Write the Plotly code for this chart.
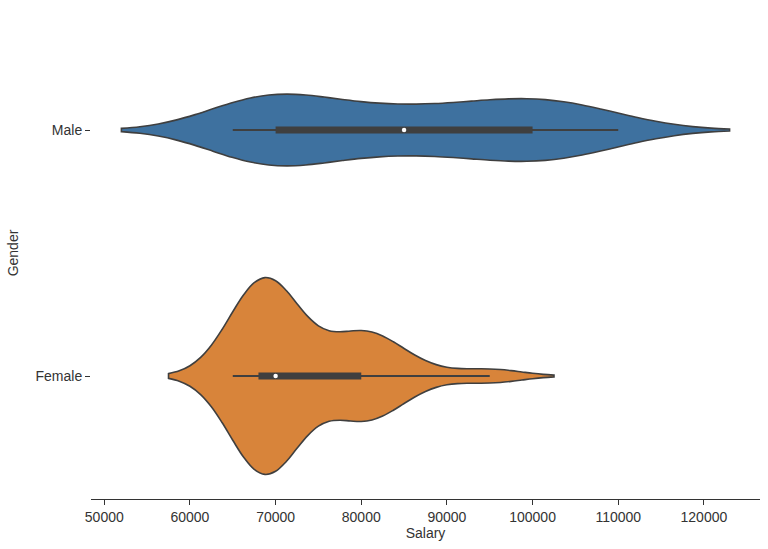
import numpy as np
import plotly.graph_objects as go

# ---- data ----
genders = ["Male", "Female"]
male_salary = [65000, 66000, 68000, 69500, 70000, 70000, 73000, 76000, 79000, 81000,
               85000, 88000, 91000, 94000, 96000, 100000, 100000, 101000, 104000, 107000, 110000]
female_salary = [65000, 66500, 67500, 67500, 68000, 68000, 68000, 68500, 69000, 69000,
                 69500, 70000, 70000, 70000, 71000, 72000, 76000, 79500, 80000, 80000,
                 80500, 81000, 83000, 86000, 95000]
kde_bandwidth = [6500, 3750]
x_ticks = [50000, 60000, 70000, 80000, 90000, 100000, 110000, 120000]

colors = ["#3e719f", "#d8843a"]
dark = "#3f3f3f"
text_col = "#333333"

fig = go.Figure()
series = [male_salary, female_salary]
lo_all, hi_all = [], []
for g, vals, bw, col in zip(genders, series, kde_bandwidth, colors):
    a = np.array(vals, dtype=float)
    lo_all.append(a.min() - 2 * bw)
    hi_all.append(a.max() + 2 * bw)
    fig.add_trace(go.Violin(
        x=vals, y=[g] * len(vals), orientation="h", bandwidth=bw,
        fillcolor=col, line=dict(color=dark, width=1.6), opacity=1,
        points=False, box_visible=False, meanline_visible=False,
        scalegroup="all", scalemode="width", spanmode="soft",
        name=g, showlegend=False, hoveron="violins"))
    q1, med, q3 = np.percentile(a, [25, 50, 75])
    iqr = q3 - q1
    wlo = a[a >= q1 - 1.5 * iqr].min()
    whi = a[a <= q3 + 1.5 * iqr].max()
    fig.add_trace(go.Scatter(x=[wlo, whi], y=[g, g], mode="lines",
                             line=dict(color=dark, width=2), showlegend=False, hoverinfo="skip"))
    fig.add_trace(go.Scatter(x=[q1, q3], y=[g, g], mode="lines",
                             line=dict(color=dark, width=7), showlegend=False, hoverinfo="skip"))
    fig.add_trace(go.Scatter(x=[med], y=[g], mode="markers",
                             marker=dict(color="white", size=4.5, line=dict(width=0)),
                             showlegend=False, hoverinfo="skip"))

span_lo, span_hi = min(lo_all), max(hi_all)
pad = 0.05 * (span_hi - span_lo)

fig.update_layout(
    width=768, height=549,
    margin=dict(l=91, r=8, t=7, b=50),
    plot_bgcolor="white", paper_bgcolor="white",
    violinmode="overlay", violingap=0.2, violingroupgap=0,
    font=dict(family="Liberation Sans, Arial, sans-serif", size=14, color=text_col),
)
fig.update_xaxes(
    range=[span_lo - pad, span_hi + pad], tickvals=x_ticks, tickformat="d",
    ticks="outside", ticklen=5, tickwidth=1, tickcolor=text_col,
    showline=True, linecolor=text_col, linewidth=1,
    showgrid=False, zeroline=False,
    title=dict(text="Salary", standoff=4, font=dict(size=14)),
)
fig.update_yaxes(
    type="category", categoryorder="array", categoryarray=genders,
    range=[len(genders) - 0.5, -0.5],
    ticks="outside", ticklen=5, tickwidth=1, tickcolor=text_col,
    showline=False, showgrid=False, zeroline=False,
    title=dict(text="Gender", standoff=13, font=dict(size=14)),
)

fig.write_html("out.html")
